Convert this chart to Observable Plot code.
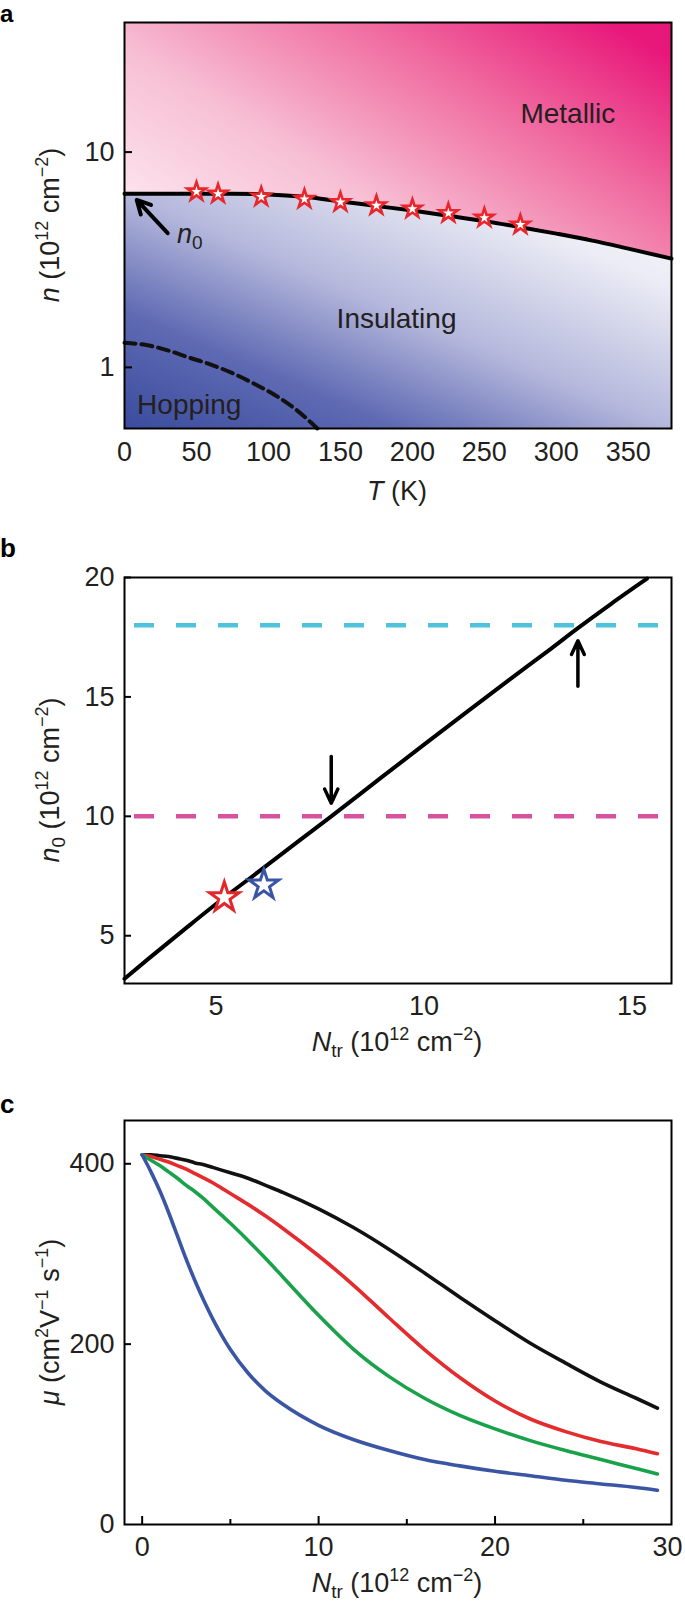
<!DOCTYPE html>
<html>
<head>
<meta charset="utf-8">
<script src="https://cdn.jsdelivr.net/npm/d3@7"></script>
<script src="https://cdn.jsdelivr.net/npm/@observablehq/plot@0.6"></script>
<style>
  body { margin: 0; background: #fff; }
  #wrap { position: relative; width: 685px; height: 1606px; overflow: hidden; }
  #wrap > svg.panel { position: absolute; left: 0; }
  #overlay { position: absolute; left: 0; top: 0; pointer-events: none; }
</style>
</head>
<body>
<div id="wrap"></div>
<script>
// ---------------- DATA ----------------
// Panel a: metal–insulator boundary n0(T)
const boundaryT = [0, 25, 50, 75, 100, 125, 150, 175, 200, 225, 250, 275, 300, 325, 350, 380];
const boundaryN = [6.4, 6.4, 6.4, 6.4, 6.36, 6.2, 5.9, 5.62, 5.35, 5.06, 4.78, 4.48, 4.18, 3.88, 3.56, 3.2];
// Panel a: measured points (stars)
const starT = [50, 65, 95, 125, 150, 175, 200, 225, 250, 275];
const starN = [6.55, 6.4, 6.2, 6.05, 5.85, 5.65, 5.45, 5.2, 4.95, 4.6];
// Panel a: hopping boundary (dashed)
const hopT = [0, 15, 30, 45, 60, 75, 90, 105, 120, 134];
const hopN = [1.3, 1.27, 1.2, 1.11, 1.03, 0.94, 0.84, 0.74, 0.63, 0.52];
// Panel a labels
const regionLabels = ["Metallic", "Insulating", "Hopping"];
const regionT = [308, 189, 45];
const regionN = [15, 1.68, 0.665];
const arrowA = {T1: 30, n1: 4.2, T2: 8.5, n2: 6.0};
const xTicksA = [0, 50, 100, 150, 200, 250, 300, 350];
const yTicksA = [1, 10];
const xDomA = [0, 380];
const yDomA = [0.52, 40];

// Panel b: n0 vs N_tr
const lineNtr = [2.8, 3.38, 4.3, 5.2, 6, 7, 7.77, 9, 10, 11, 12, 13, 13.7, 14.5, 15.36];
const lineN0 = [3.2, 4.04, 5.35, 6.6, 7.65, 8.98, 10.0, 11.66, 13.0, 14.33, 15.65, 16.95, 17.88, 18.9, 19.95];
const refLevels = [10, 18];
const refColors = ["#d8539f", "#4fc2dc"];
const bStarNtr = [5.2, 6.15];
const bStarN0 = [6.6, 7.13];
const bStarColors = ["#e4262b", "#3b55a5"];
const arrowsB = [
  {x: 7.77, from: 12.5, to: 10.55},
  {x: 13.7, from: 15.45, to: 17.35}
];
const xTicksB = [5, 10, 15];
const yTicksB = [5, 10, 15, 20];
const xDomB = [2.8, 15.95];
const yDomB = [3, 20];

// Panel c: mobility vs N_tr
const cNtr = [0, 0.5, 1, 1.5, 2, 2.5, 3, 3.5, 4, 4.5, 5, 6, 7, 8, 10, 12, 14, 16, 18, 20, 22, 24, 26, 28, 29.2];
const muBlack = [410, 410, 409, 408, 406, 404, 401, 399, 396, 393, 390, 384, 376, 368, 350, 329, 305, 279, 252, 226, 201, 179, 158, 140, 129];
const muRed   = [410, 408, 405, 402, 398, 394, 389, 384, 379, 373, 367, 355, 342, 328, 298, 265, 229, 194, 163, 137, 117, 103, 92, 84, 78.5];
const muGreen = [410, 404, 398, 391, 384, 376, 369, 361, 352, 343, 334, 315, 295, 274, 232, 194, 164, 140, 121, 106, 93, 82, 72, 62, 56];
const muBlue  = [410, 391, 370, 346, 320, 294, 270, 248, 228, 210, 194, 168, 148, 133, 110, 94, 82, 72, 65, 59, 54, 49, 45, 41, 38];
const seriesColors = ["#111111", "#e42b2d", "#1aa24b", "#3b55a5"];
const xTicksC = [0, 10, 20];
const xEdgeTickC = [30];
const xMinorC = [5, 15, 25];
const yTicksC = [0, 200, 400];
const xDomC = [-1, 30];
const yDomC = [0, 448];

// ---------------- LAYOUT ----------------
const W = 685, ML = 124, MR = 14;
const frameW = W - ML - MR;
const FONT = "'Liberation Sans', Arial, Helvetica, sans-serif";
const TXT = "#231f20";
const baseStyle = {fontFamily: FONT, fontSize: "27px", color: TXT, background: "transparent", overflow: "visible"};

const wrap = document.getElementById("wrap");
function place(svg, top) {
  svg.classList.add("panel");
  svg.style.top = top + "px";
  wrap.appendChild(svg);
}

// ---------------- PANEL A ----------------
const boundary = boundaryT.map((T, i) => ({T, n: boundaryN[i]}));
const stars = starT.map((T, i) => ({T, n: starN[i]}));
const hop = hopT.map((T, i) => ({T, n: hopN[i]}));
const regions = regionLabels.map((label, i) => ({label, T: regionT[i], n: regionN[i]}));
const hA = 470, mtA = 22, mbA = 42;

const svgA = Plot.plot({
  width: W, height: hA, marginLeft: ML, marginRight: MR, marginTop: mtA, marginBottom: mbA,
  style: baseStyle,
  x: {domain: xDomA},
  y: {type: "log", domain: yDomA},
  marks: [
    Plot.areaY(boundary, {x: "T", y1: "n", y2: yDomA[1], fill: "url(#gradMetal)", curve: "monotone-x"}),
    Plot.areaY(boundary, {x: "T", y1: yDomA[0], y2: "n", fill: "url(#gradIns)", curve: "monotone-x"}),
    Plot.line(hop, {x: "T", y: "n", stroke: "#111", strokeWidth: 4, strokeDasharray: "11,6", curve: "monotone-x"}),
    Plot.line(boundary, {x: "T", y: "n", stroke: "#000", strokeWidth: 4, curve: "monotone-x"}),
    Plot.dot(stars, {x: "T", y: "n", symbol: "star", r: 5.8, fill: "white", stroke: "#e8262b", strokeWidth: 2.6}),
    Plot.text(regions, {x: "T", y: "n", text: "label", fontSize: 28, fill: TXT}),
    Plot.arrow([arrowA], {x1: "T1", y1: "n1", x2: "T2", y2: "n2", stroke: "#000", strokeWidth: 4, headLength: 16, headAngle: 55}),
    Plot.ruleY(yTicksA, {y: d => d, stroke: "#000", strokeWidth: 2, insetRight: frameW - 8}),
    Plot.axisX(xTicksA, {tickSize: 0, tickPadding: 13, label: null, fill: TXT}),
    Plot.axisY(yTicksA, {tickSize: 0, tickPadding: 10, label: null, tickFormat: d => String(d), fill: TXT}),
    Plot.frame({stroke: "#000", strokeWidth: 2})
  ]
});
const defsA = document.createElementNS("http://www.w3.org/2000/svg", "defs");
defsA.innerHTML = `
  <linearGradient id="gradMetal" x1="0" y1="0.85" x2="1" y2="0.15">
    <stop offset="0" stop-color="#fde9f1"/>
    <stop offset="0.35" stop-color="#f7bfd4"/>
    <stop offset="0.7" stop-color="#f06a9f"/>
    <stop offset="1" stop-color="#e8177a"/>
  </linearGradient>
  <linearGradient id="gradIns" x1="0" y1="1" x2="1" y2="0">
    <stop offset="0" stop-color="#3a4c9e"/>
    <stop offset="0.25" stop-color="#5f6ab3"/>
    <stop offset="0.5" stop-color="#b5b8dc"/>
    <stop offset="0.8" stop-color="#ebecf5"/>
    <stop offset="1" stop-color="#f8f8fb"/>
  </linearGradient>`;
svgA.prepend(defsA);
place(svgA, 0);

// ---------------- PANEL B ----------------
const bLine = lineNtr.map((x, i) => ({x, y: lineN0[i]}));
const bRefs = refLevels.map((y, i) => ({y, c: refColors[i]}));
const bStars = bStarNtr.map((x, i) => ({x, y: bStarN0[i], c: bStarColors[i]}));
const hB = 490, mtB = 37, mbB = 47;
const svgB = Plot.plot({
  width: W, height: hB, marginLeft: ML, marginRight: MR, marginTop: mtB, marginBottom: mbB,
  style: baseStyle,
  x: {domain: xDomB},
  y: {domain: yDomB},
  marks: [
    ...bRefs.map(r => Plot.ruleY([r.y], {stroke: r.c, strokeWidth: 4.5, strokeDasharray: "20,22", insetLeft: 10, insetRight: 4})),
    Plot.line(bLine, {x: "x", y: "y", stroke: "#000", strokeWidth: 4, curve: "monotone-x"}),
    ...bStars.map(s => Plot.dot([s], {x: "x", y: "y", symbol: "star", r: 9.3, fill: "white", stroke: s.c, strokeWidth: 3})),
    Plot.arrow(arrowsB, {x: "x", y1: "from", y2: "to", stroke: "#000", strokeWidth: 3.5, headLength: 14, headAngle: 50}),
    Plot.ruleY(yTicksB, {y: d => d, stroke: "#000", strokeWidth: 2, insetRight: frameW - 7}),
    Plot.axisX(xTicksB, {tickSize: 0, tickPadding: 12, label: null, fill: TXT}),
    Plot.axisY(yTicksB, {tickSize: 0, tickPadding: 10, label: null, fill: TXT}),
    Plot.frame({stroke: "#000", strokeWidth: 2})
  ]
});
place(svgB, 540);

// ---------------- PANEL C ----------------
const muSeries = [muBlack, muRed, muGreen, muBlue];
const hC = 480, mtC = 30, mbC = 46;
const frameHC = hC - mtC - mbC;
const svgC = Plot.plot({
  width: W, height: hC, marginLeft: ML, marginRight: MR, marginTop: mtC, marginBottom: mbC,
  style: baseStyle,
  x: {domain: xDomC},
  y: {domain: yDomC},
  marks: [
    ...muSeries.map((mu, k) => Plot.line(cNtr.map((x, i) => ({x, y: mu[i]})),
      {x: "x", y: "y", stroke: seriesColors[k], strokeWidth: 3.6, curve: "monotone-x"})),
    Plot.ruleX(xTicksC, {x: d => d, stroke: "#000", strokeWidth: 2, insetTop: frameHC - 8}),
    Plot.ruleX(xMinorC, {x: d => d, stroke: "#000", strokeWidth: 2, insetTop: frameHC - 5}),
    Plot.ruleY(yTicksC.slice(1), {y: d => d, stroke: "#000", strokeWidth: 2, insetRight: frameW - 7}),
    Plot.axisX(xTicksC, {tickSize: 0, tickPadding: 12, label: null, fill: TXT}),
    Plot.axisX(xEdgeTickC, {tickSize: 0, tickPadding: 12, label: null, fill: TXT, dx: -4}),
    Plot.axisY(yTicksC, {tickSize: 0, tickPadding: 10, label: null, fill: TXT}),
    Plot.frame({stroke: "#000", strokeWidth: 2})
  ]
});
place(svgC, 1090);

// ---------------- TEXT OVERLAY ----------------
const sup = (t) => `<tspan font-size="18" dy="-11">${t}</tspan>`;
const unsup = (t) => `<tspan dy="11">${t}</tspan>`;
const unitsTail = `(10${sup("12")}${unsup(" cm")}${sup("−2")}${unsup(")")}`;
const overlay = `
<svg id="overlay" width="685" height="1606" xmlns="http://www.w3.org/2000/svg"
     font-family="${FONT}" fill="${TXT}" font-size="27">
  <text x="0" y="22" font-weight="bold" font-size="24" fill="#000">a</text>
  <text x="0" y="557" font-weight="bold" font-size="26" fill="#000">b</text>
  <text x="0" y="1113" font-weight="bold" font-size="26" fill="#000">c</text>

  <text x="177" y="243"><tspan font-style="italic">n</tspan><tspan font-size="19" dy="6">0</tspan></text>

  <text transform="translate(59,225) rotate(-90)" text-anchor="middle"><tspan font-style="italic">n</tspan> ${unitsTail}</text>
  <text x="397" y="500" text-anchor="middle"><tspan font-style="italic">T</tspan> (K)</text>

  <text transform="translate(59,780) rotate(-90)" text-anchor="middle"><tspan font-style="italic">n</tspan><tspan font-size="19" dy="6">0</tspan><tspan dy="-6"> </tspan>${unitsTail}</text>
  <text x="397" y="1051" text-anchor="middle"><tspan font-style="italic">N</tspan><tspan font-size="19" dy="6">tr</tspan><tspan dy="-6"> </tspan>${unitsTail}</text>

  <text transform="translate(59,1322) rotate(-90)" text-anchor="middle"><tspan font-style="italic">μ</tspan> (cm${sup("2")}${unsup("V")}${sup("−1")}${unsup(" s")}${sup("−1")}${unsup(")")}</text>
  <text x="397" y="1592" text-anchor="middle"><tspan font-style="italic">N</tspan><tspan font-size="19" dy="6">tr</tspan><tspan dy="-6"> </tspan>${unitsTail}</text>
</svg>`;
wrap.insertAdjacentHTML("beforeend", overlay);
</script>
</body>
</html>
